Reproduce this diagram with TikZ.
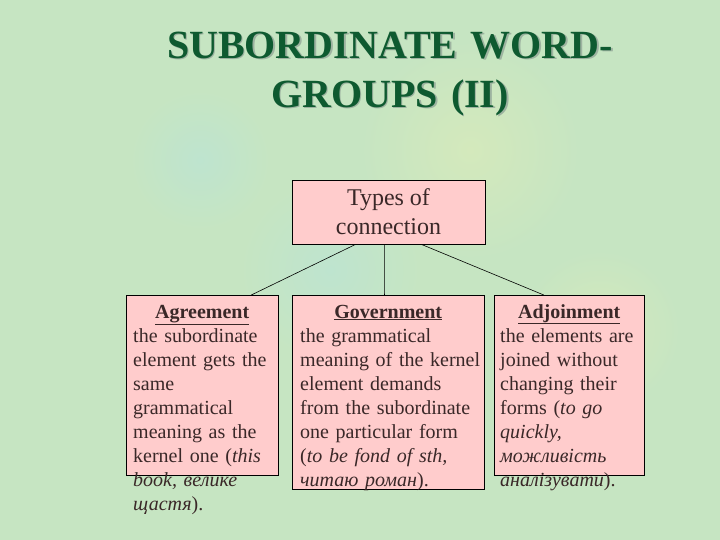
\documentclass[tikz,border=0pt]{standalone}
\usepackage{fontspec}
\setmainfont{Liberation Serif}
\usetikzlibrary{calc}

\definecolor{bggreen}{HTML}{C6E5C2}
\definecolor{bgyellow}{HTML}{D4E9BC}
\definecolor{bgblue}{HTML}{BEE4CF}
\definecolor{boxpink}{HTML}{FFCCCC}
\definecolor{inkbrown}{HTML}{3A2828}
\definecolor{titlegreen}{HTML}{0E5A30}
\definecolor{titleshadow}{HTML}{9DB3A0}

\begin{document}
\begin{tikzpicture}[x=1pt,y=-1pt,
    box/.style={draw=black,fill=boxpink,line width=0.8pt,inner sep=0pt,anchor=north west},
    body/.style={text=inkbrown,inner sep=0pt,anchor=base west,align=left,
                 font=\fontsize{20}{24}\selectfont},
    title/.style={font=\fontsize{40}{49}\selectfont\bfseries,align=center,
                  text width=600pt,inner sep=0pt,anchor=base},
    link/.style={draw=black,line width=0.6pt}]

    % background
    \useasboundingbox (0,0) rectangle (720,540);
    \fill[bggreen] (0,0) rectangle (720,540);
    \shade[inner color=bgyellow,outer color=bggreen] (470,150) circle (110);
    \shade[inner color=bgyellow,outer color=bggreen] (600,330) circle (80);
    \shade[inner color=bgblue,outer color=bggreen] (330,270) circle (90);
    \shade[inner color=bgblue,outer color=bggreen] (200,160) circle (70);

    % title
    \node[title,text=titleshadow] (titleshadow) at (391.5,60) {SUBORDINATE WORD-\\GROUPS (II)};
    \node[title,text=titlegreen] (title) at (390,58.5) {SUBORDINATE WORD-\\GROUPS (II)};

    % boxes
    \node[box,minimum width=193pt,minimum height=64pt,text=inkbrown,align=center,
          font=\fontsize{24}{29}\selectfont,anchor=center] (types) at (388.5,212) {Types of\\connection};
    \node[box,minimum width=152pt,minimum height=180pt] (agr) at (126,295) {};
    \node[box,minimum width=192pt,minimum height=194pt] (gov) at (292,295) {};
    \node[box,minimum width=150pt,minimum height=180pt] (adj) at (494,295) {};

    % connectors
    \draw[link] ($(types.south west)!.33!(types.south east)$) -- ($(agr.north west)!.82!(agr.north east)$);
    \draw[link] ($(types.south west)!.48!(types.south east)$) -- ($(gov.north west)!.48!(gov.north east)$);
    \draw[link] ($(types.south west)!.67!(types.south east)$) -- ($(adj.north west)!.33!(adj.north east)$);

    % texts
    \node[body,text width=138pt] (agrtext) at ([shift={(7,23)}]agr.north west) {%
        \makebox[\linewidth]{\underline{\textbf{Agreement}}}\\
        the subordinate\\
        element gets the\\
        same\\
        grammatical\\
        meaning as the\\
        kernel one (\textit{this}\\
        \textit{book, велике}\\
        \textit{щастя}).};
    \node[body,text width=176pt] (govtext) at ([shift={(8,23)}]gov.north west) {%
        \makebox[\linewidth]{\underline{\textbf{Government}}}\\
        the grammatical\\
        \mbox{meaning of the kernel}\\
        element demands\\
        from the subordinate\\
        one particular form\\
        (\textit{to be fond of sth,}\\
        \textit{читаю роман}).};
    \node[body,text width=138pt] (adjtext) at ([shift={(6,23)}]adj.north west) {%
        \makebox[\linewidth]{\underline{\textbf{Adjoinment}}}\\
        the elements are\\
        joined without\\
        changing their\\
        forms (\textit{to go}\\
        \textit{quickly,}\\
        \textit{можливість}\\
        \textit{аналізувати}).};

\end{tikzpicture}
\end{document}
